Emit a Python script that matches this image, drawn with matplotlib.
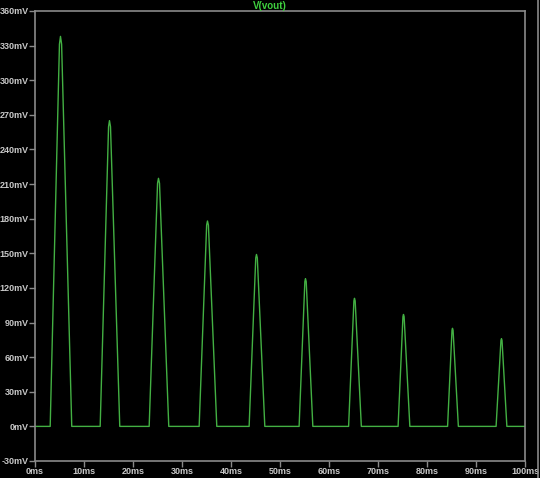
import matplotlib
matplotlib.use("Agg")
import matplotlib.pyplot as plt
from matplotlib.lines import Line2D

# pulse data (time in ms, voltage in mV)
pulse_start = [3.1, 13.3, 23.3, 33.5, 43.7, 53.9, 64.0, 74.1, 84.2, 94.1]
pulse_peak_t = [5.2, 15.2, 25.2, 35.2, 45.2, 55.2, 65.2, 75.2, 85.2, 95.2]
pulse_end = [7.5, 17.3, 27.3, 37.1, 46.9, 56.7, 66.6, 76.5, 86.4, 96.3]
pulse_peak_v = [338, 265, 215, 178, 149, 128, 111, 97, 85, 76]

# shoulder near the rounded tip: (fraction of rise/fall time, fraction of peak)
shoulder = (0.9, 0.98)

t_end = 100.0
y_ticks = list(range(-30, 361, 30))
x_ticks = list(range(0, 101, 10))

# build the trace
t = [0.0]
v = [0.0]
for s, pt, e, pk in zip(pulse_start, pulse_peak_t, pulse_end, pulse_peak_v):
    t += [s, s + shoulder[0] * (pt - s), pt, pt + (1 - shoulder[0]) * (e - pt), e]
    v += [0.0, shoulder[1] * pk, pk, shoulder[1] * pk, 0.0]
t.append(t_end)
v.append(0.0)

fig = plt.figure(figsize=(5.4, 4.78), dpi=100, facecolor="black")
ax = fig.add_axes([35 / 540, 17 / 478, 490 / 540, 450 / 478])
ax.set_facecolor("black")

ax.plot(t, v, color="#43b043", linewidth=1.0)

ax.set_xlim(0, 100)
ax.set_ylim(-30, 360)
ax.set_xticks(x_ticks)
ax.set_xticklabels([f"{x}ms" for x in x_ticks])
ax.set_yticks(y_ticks)
ax.set_yticklabels([f"{y}mV" for y in y_ticks])

grey = "#8a8a8a"
for sp in ax.spines.values():
    sp.set_color(grey)
    sp.set_linewidth(1.2)
ax.tick_params(colors=grey, length=4, width=1, direction="out",
               labelcolor="#c8c8c8", labelsize=6.5, pad=0.5)
for lbl in ax.get_xticklabels() + ax.get_yticklabels():
    lbl.set_family("Liberation Sans")
    lbl.set_fontweight("bold")

fig.text(0.5, 0.998, "V(vout)", color="#3fd03f", fontsize=7,
         fontweight="bold", family="Liberation Sans", ha="center", va="top")

# window border on the right
fig.add_artist(Line2D([538 / 540, 538 / 540], [0, 1], color=grey, linewidth=1.2))

fig.savefig("out.png", dpi=100, facecolor="black")
